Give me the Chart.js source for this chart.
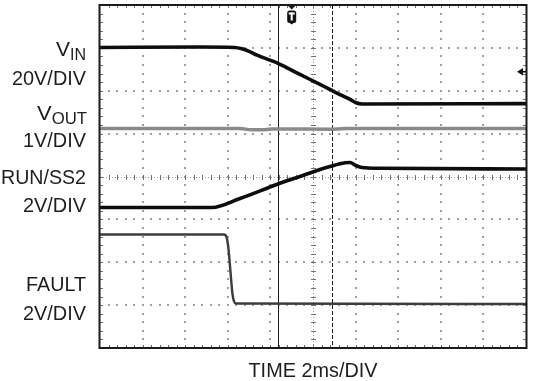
<!DOCTYPE html>
<html>
<head>
<meta charset="utf-8">
<script src="https://cdn.jsdelivr.net/npm/chart.js@4.4.1/dist/chart.umd.min.js"></script>
<style>
  html, body { margin: 0; padding: 0; background: #ffffff; overflow: hidden; }
  #wrap { width: 535px; height: 381px; position: relative; }
</style>
</head>
<body>
<div id="wrap"><canvas id="c" width="535" height="381"></canvas></div>
<script>
// ---- Data (screen divisions: x 0..10 = 2 ms/div, y 0..8 divisions from bottom) ----
const vinX    = [0, 2.35, 3.16, 3.33, 3.50, 3.685, 4.178, 4.695, 5.164, 5.634, 5.869, 6.009, 6.150, 10];
const vinY    = [7.01, 7.02, 7.01, 6.98, 6.92, 6.83, 6.64, 6.38, 6.15, 5.91, 5.80, 5.72, 5.69, 5.70];

const voutX   = [0, 3.286, 3.55, 3.873, 4.05, 5.399, 5.75, 10];
const voutY   = [5.12, 5.12, 5.09, 5.09, 5.11, 5.10, 5.12, 5.12];

const runX    = [0, 2.629, 3.286, 4.178, 4.695, 5.094, 5.399, 5.751, 5.869, 6.009, 6.150, 6.573, 10];
const runY    = [3.277, 3.277, 3.487, 3.825, 4.00, 4.140, 4.233, 4.320, 4.327, 4.257, 4.210, 4.191, 4.175];

const faultX  = [0, 2.911, 2.969, 3.005, 3.040, 3.075, 3.110, 3.146, 3.192, 10];
const faultY  = [2.647, 2.647, 2.589, 2.402, 2.052, 1.633, 1.259, 1.085, 1.038, 1.026];

const cursorX      = [4.17, 5.453];   // solid, dashed cursor
const triggerX     = 4.5;             // trigger marker position
const triggerLevel = 6.444;           // trigger level arrow (right edge)

const channelLabels = [
  { main: "V", sub: "IN" },
  { main: "20V/DIV" },
  { main: "V", sub: "OUT" },
  { main: "1V/DIV" },
  { main: "RUN/SS2" },
  { main: "2V/DIV" },
  { main: "FAULT" },
  { main: "2V/DIV" }
];
const xTitle = "TIME 2ms/DIV";

// ---- helpers ----
const pts = (xs, ys) => xs.map((x, i) => ({ x: x, y: ys[i] }));

// label layout (pixels): right edge, baseline, fitted width
const labelLayout = [
  { right: 86, base: 55.7, width: 30 },
  { right: 86, base: 85,   width: 74 },
  { right: 87, base: 120,  width: 50 },
  { right: 86, base: 147,  width: 63 },
  { right: 86, base: 183.5,width: 85 },
  { right: 86, base: 212,  width: 63 },
  { right: 86, base: 291,  width: 60 },
  { right: 86, base: 319.5,width: 63 }
];
const FONT_FAMILY = '"Liberation Sans Narrow", "Liberation Sans", Arial, sans-serif';
const TEXT_COLOR = '#1e1e1e';

const scopeGrid = {
  id: 'scopeGrid',
  beforeDatasetsDraw(chart) {
    const { ctx, chartArea: a, scales: { x: xs, y: ys } } = chart;
    ctx.save();
    // dotted grid lines
    ctx.fillStyle = '#a0a0a0';
    for (let i = 1; i < 10; i++) {
      if (i === 5) continue;
      const px = Math.round(xs.getPixelForValue(i));
      for (let k = 1; k < 40; k++) {
        const py = Math.round(ys.getPixelForValue(k * 0.2));
        ctx.fillRect(px - 1, py - 1, 2, 2);
      }
    }
    for (let j = 1; j < 8; j++) {
      if (j === 4) continue;
      const py = Math.round(ys.getPixelForValue(j));
      for (let k = 1; k < 50; k++) {
        const px = Math.round(xs.getPixelForValue(k * 0.2));
        ctx.fillRect(px - 1, py - 1, 2, 2);
      }
    }
    // centre lines: fine dots + minor ticks
    const cx = Math.round(xs.getPixelForValue(5)) + 0.5;
    const cy = Math.round(ys.getPixelForValue(4)) + 0.5;
    ctx.strokeStyle = '#9a9a9a';
    ctx.lineWidth = 1;
    ctx.setLineDash([1, 2]);
    ctx.beginPath();
    ctx.moveTo(a.left, cy); ctx.lineTo(a.right, cy);
    ctx.moveTo(cx, a.top); ctx.lineTo(cx, a.bottom);
    ctx.stroke();
    ctx.setLineDash([]);
    ctx.strokeStyle = '#6e6e6e';
    ctx.beginPath();
    for (let k = 1; k < 50; k++) {
      const px = Math.round(xs.getPixelForValue(k * 0.2)) + 0.5;
      ctx.moveTo(px, cy - 2.5); ctx.lineTo(px, cy + 2.5);
      ctx.moveTo(px, a.top); ctx.lineTo(px, a.top + 3);
      ctx.moveTo(px, a.bottom); ctx.lineTo(px, a.bottom - 3);
    }
    for (let k = 1; k < 40; k++) {
      const py = Math.round(ys.getPixelForValue(k * 0.2)) + 0.5;
      ctx.moveTo(cx - 2.5, py); ctx.lineTo(cx + 2.5, py);
      ctx.moveTo(a.left, py); ctx.lineTo(a.left + 3, py);
      ctx.moveTo(a.right, py); ctx.lineTo(a.right - 3, py);
    }
    ctx.stroke();
    // cursors
    ctx.strokeStyle = '#1a1a1a';
    ctx.lineWidth = 1;
    cursorX.forEach((v, i) => {
      const px = Math.round(xs.getPixelForValue(v)) + 0.5;
      ctx.setLineDash(i === 0 ? [] : [4, 2]);
      ctx.beginPath();
      ctx.moveTo(px, a.top); ctx.lineTo(px, a.bottom);
      ctx.stroke();
    });
    ctx.setLineDash([]);
    ctx.restore();
  },
  afterDatasetsDraw(chart) {
    const { ctx, chartArea: a, scales: { x: xs, y: ys } } = chart;
    ctx.save();
    // frame
    ctx.strokeStyle = '#1a1a1a';
    ctx.lineWidth = 2;
    ctx.strokeRect(a.left - 0.5, a.top, a.right - a.left + 1, a.bottom - a.top);
    // trigger marker
    const tx = xs.getPixelForValue(triggerX);
    ctx.fillStyle = '#111';
    ctx.beginPath();
    ctx.moveTo(tx - 3.5, a.top + 1); ctx.lineTo(tx + 3.5, a.top + 1); ctx.lineTo(tx, a.top + 4.5);
    ctx.closePath(); ctx.fill();
    ctx.beginPath();
    ctx.roundRect(tx - 4.5, a.top + 5.5, 9, 12.5, 2.5);
    ctx.fill();
    ctx.beginPath();
    ctx.moveTo(tx - 2.5, a.top + 17.5); ctx.lineTo(tx + 2.5, a.top + 17.5); ctx.lineTo(tx, a.top + 19.5);
    ctx.closePath(); ctx.fill();
    ctx.fillStyle = '#fff';
    ctx.fillRect(tx - 3, a.top + 7.5, 6, 2);
    ctx.fillRect(tx - 1, a.top + 7.5, 2, 8);
    // trigger level arrow
    const ly = ys.getPixelForValue(triggerLevel);
    ctx.fillStyle = '#111';
    ctx.beginPath();
    ctx.moveTo(a.right - 9, ly); ctx.lineTo(a.right - 3, ly - 3.8); ctx.lineTo(a.right - 3, ly + 3.8);
    ctx.closePath(); ctx.fill();
    ctx.fillRect(a.right - 4, ly - 0.8, 4, 1.6);
    ctx.restore();
  },
  afterDraw(chart) {
    const { ctx, chartArea: a } = chart;
    ctx.save();
    ctx.fillStyle = TEXT_COLOR;
    ctx.textBaseline = 'alphabetic';
    ctx.textAlign = 'left';
    const mainFont = '21px ' + FONT_FAMILY;
    const subFont = '16px ' + FONT_FAMILY;
    channelLabels.forEach((lab, i) => {
      const L = labelLayout[i];
      ctx.font = mainFont;
      const wm = ctx.measureText(lab.main).width;
      let ws = 0;
      if (lab.sub) { ctx.font = subFont; ws = ctx.measureText(lab.sub).width; }
      const s = L.width / (wm + ws);
      ctx.save();
      ctx.translate(L.right - L.width, 0);
      ctx.scale(s, 1);
      ctx.font = mainFont;
      ctx.fillText(lab.main, 0, L.base);
      if (lab.sub) {
        ctx.font = subFont;
        ctx.fillText(lab.sub, wm, L.base + 4);
      }
      ctx.restore();
    });
    // x-axis title
    ctx.font = mainFont;
    const tw = ctx.measureText(xTitle).width;
    const targetW = 129;
    const cxm = (a.left + a.right) / 2;
    ctx.save();
    ctx.translate(cxm - targetW / 2, 0);
    ctx.scale(targetW / tw, 1);
    ctx.fillText(xTitle, 0, 377);
    ctx.restore();
    ctx.restore();
  }
};

const lineDs = (label, xs, ys, color, width) => ({
  label: label,
  data: pts(xs, ys),
  borderColor: color,
  backgroundColor: color,
  borderWidth: width,
  pointRadius: 0,
  cubicInterpolationMode: 'monotone',
  fill: false
});

new Chart(document.getElementById('c'), {
  type: 'line',
  data: {
    datasets: [
      lineDs('VOUT', voutX, voutY, '#8a8a8a', 3.5),
      lineDs('FAULT', faultX, faultY, '#3c3c3c', 2.4),
      lineDs('RUN/SS2', runX, runY, '#0d0d0d', 3.6),
      lineDs('VIN', vinX, vinY, '#0d0d0d', 3.6)
    ]
  },
  options: {
    responsive: false,
    animation: false,
    devicePixelRatio: 1,
    parsing: true,
    layout: { padding: { left: 100, right: 9, top: 5, bottom: 33 } },
    scales: {
      x: { type: 'linear', min: 0, max: 10, display: false },
      y: { type: 'linear', min: 0, max: 8, display: false }
    },
    plugins: {
      legend: { display: false },
      tooltip: { enabled: false },
      title: { display: false }
    }
  },
  plugins: [scopeGrid]
});
</script>
</body>
</html>
